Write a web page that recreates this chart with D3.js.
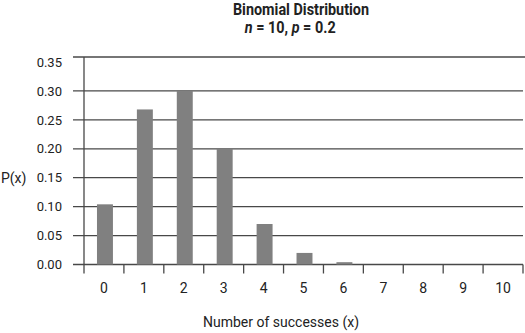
<!DOCTYPE html>
<html>
<head>
<meta charset="utf-8">
<script src="https://cdn.jsdelivr.net/npm/d3@7"></script>
<style>
  html, body { margin: 0; padding: 0; background: #fff; }
  svg { display: block; }
  .tick-label { font-family: Roboto, "Liberation Sans", sans-serif; font-size: 13px; fill: #222; }
  .x-label { font-size: 14px; }
  .axis-title { font-family: Roboto, "Liberation Sans", sans-serif; font-size: 14px; fill: #222; }
  .title { font-family: Roboto, "Liberation Sans", sans-serif; font-weight: bold; font-size: 16px; fill: #222; }
</style>
</head>
<body>
<script>
// Binomial probabilities P(x) for n = 10, p = 0.2
const successes = [0, 1, 2, 3, 4, 5, 6, 7, 8, 9, 10];
const probabilities = [0.104, 0.268, 0.30, 0.20, 0.07, 0.02, 0.004, 0, 0, 0, 0];
const yTicks = [0, 0.05, 0.10, 0.15, 0.20, 0.25, 0.30, 0.35];

const W = 525, H = 333;
const plotLeft = 84, plotRight = 523, plotTop = 62, plotBottom = 264.5;
const gridLeft = 73;
const lineColor = "#484848";

const svg = d3.select("body").append("svg")
  .attr("width", W).attr("height", H);

const x = d3.scaleBand().domain(successes).range([plotLeft, plotRight]).paddingInner(0).paddingOuter(0);
const y = d3.scaleLinear().domain([0, 0.35]).range([plotBottom, plotTop]);

// Horizontal grid lines with their left tick stubs (the top line is the plot frame)
const frameTop = y(0.35) - 5;
svg.append("g").selectAll("line")
  .data(yTicks)
  .join("line")
  .attr("x1", gridLeft)
  .attr("x2", d => d === 0.35 ? W : plotRight)
  .attr("y1", d => d === 0.35 ? frameTop : y(d))
  .attr("y2", d => d === 0.35 ? frameTop : y(d))
  .attr("stroke", lineColor)
  .attr("stroke-width", 1.3);

// Y tick labels
svg.append("g").selectAll("text")
  .data(yTicks)
  .join("text")
  .attr("class", "tick-label")
  .attr("x", 62)
  .attr("y", d => y(d))
  .attr("dy", "0.36em")
  .attr("text-anchor", "end")
  .text(d => d3.format(".2f")(d));

// Bars
const barW = x.bandwidth() * 0.4;
svg.append("g").selectAll("rect")
  .data(successes)
  .join("rect")
  .attr("x", d => x(d) + (x.bandwidth() - barW) / 2 + 1)
  .attr("width", barW)
  .attr("y", (d, i) => y(probabilities[i]))
  .attr("height", (d, i) => y(0) - y(probabilities[i]))
  .attr("fill", "#808080");

// Y axis line
svg.append("line")
  .attr("x1", plotLeft).attr("x2", plotLeft)
  .attr("y1", frameTop).attr("y2", plotBottom + 9)
  .attr("stroke", lineColor).attr("stroke-width", 1.3);

// X axis ticks at category boundaries
const boundaries = successes.map(d => x(d) + x.bandwidth());
svg.append("g").selectAll("line")
  .data(boundaries)
  .join("line")
  .attr("x1", d => d).attr("x2", d => d)
  .attr("y1", y(0)).attr("y2", y(0) + 9)
  .attr("stroke", lineColor).attr("stroke-width", 1.3);

// X tick labels
svg.append("g").selectAll("text")
  .data(successes)
  .join("text")
  .attr("class", "tick-label x-label")
  .attr("x", d => x(d) + x.bandwidth() / 2)
  .attr("y", 293)
  .attr("text-anchor", "middle")
  .text(d => d);

// Axis titles
svg.append("text").attr("class", "axis-title")
  .attr("x", 1).attr("y", y(0.15)).attr("dy", "0.36em")
  .text("P(x)");
svg.append("text").attr("class", "axis-title")
  .attr("x", 281).attr("y", 327).attr("text-anchor", "middle")
  .text("Number of successes (x)");

// Chart title, set in a condensed style by squeezing horizontally
const titleG = svg.append("g").attr("transform", "translate(301,0) scale(0.9,1)");
titleG.append("text").attr("class", "title")
  .attr("x", 0).attr("y", 14.5).attr("text-anchor", "middle")
  .text("Binomial Distribution");
const sub = titleG.append("text").attr("class", "title")
  .attr("x", -12).attr("y", 33.5).attr("text-anchor", "middle");
sub.append("tspan").attr("font-style", "italic").text("n");
sub.append("tspan").text(" = 10, ");
sub.append("tspan").attr("font-style", "italic").text("p");
sub.append("tspan").text(" = 0.2");
</script>
</body>
</html>
